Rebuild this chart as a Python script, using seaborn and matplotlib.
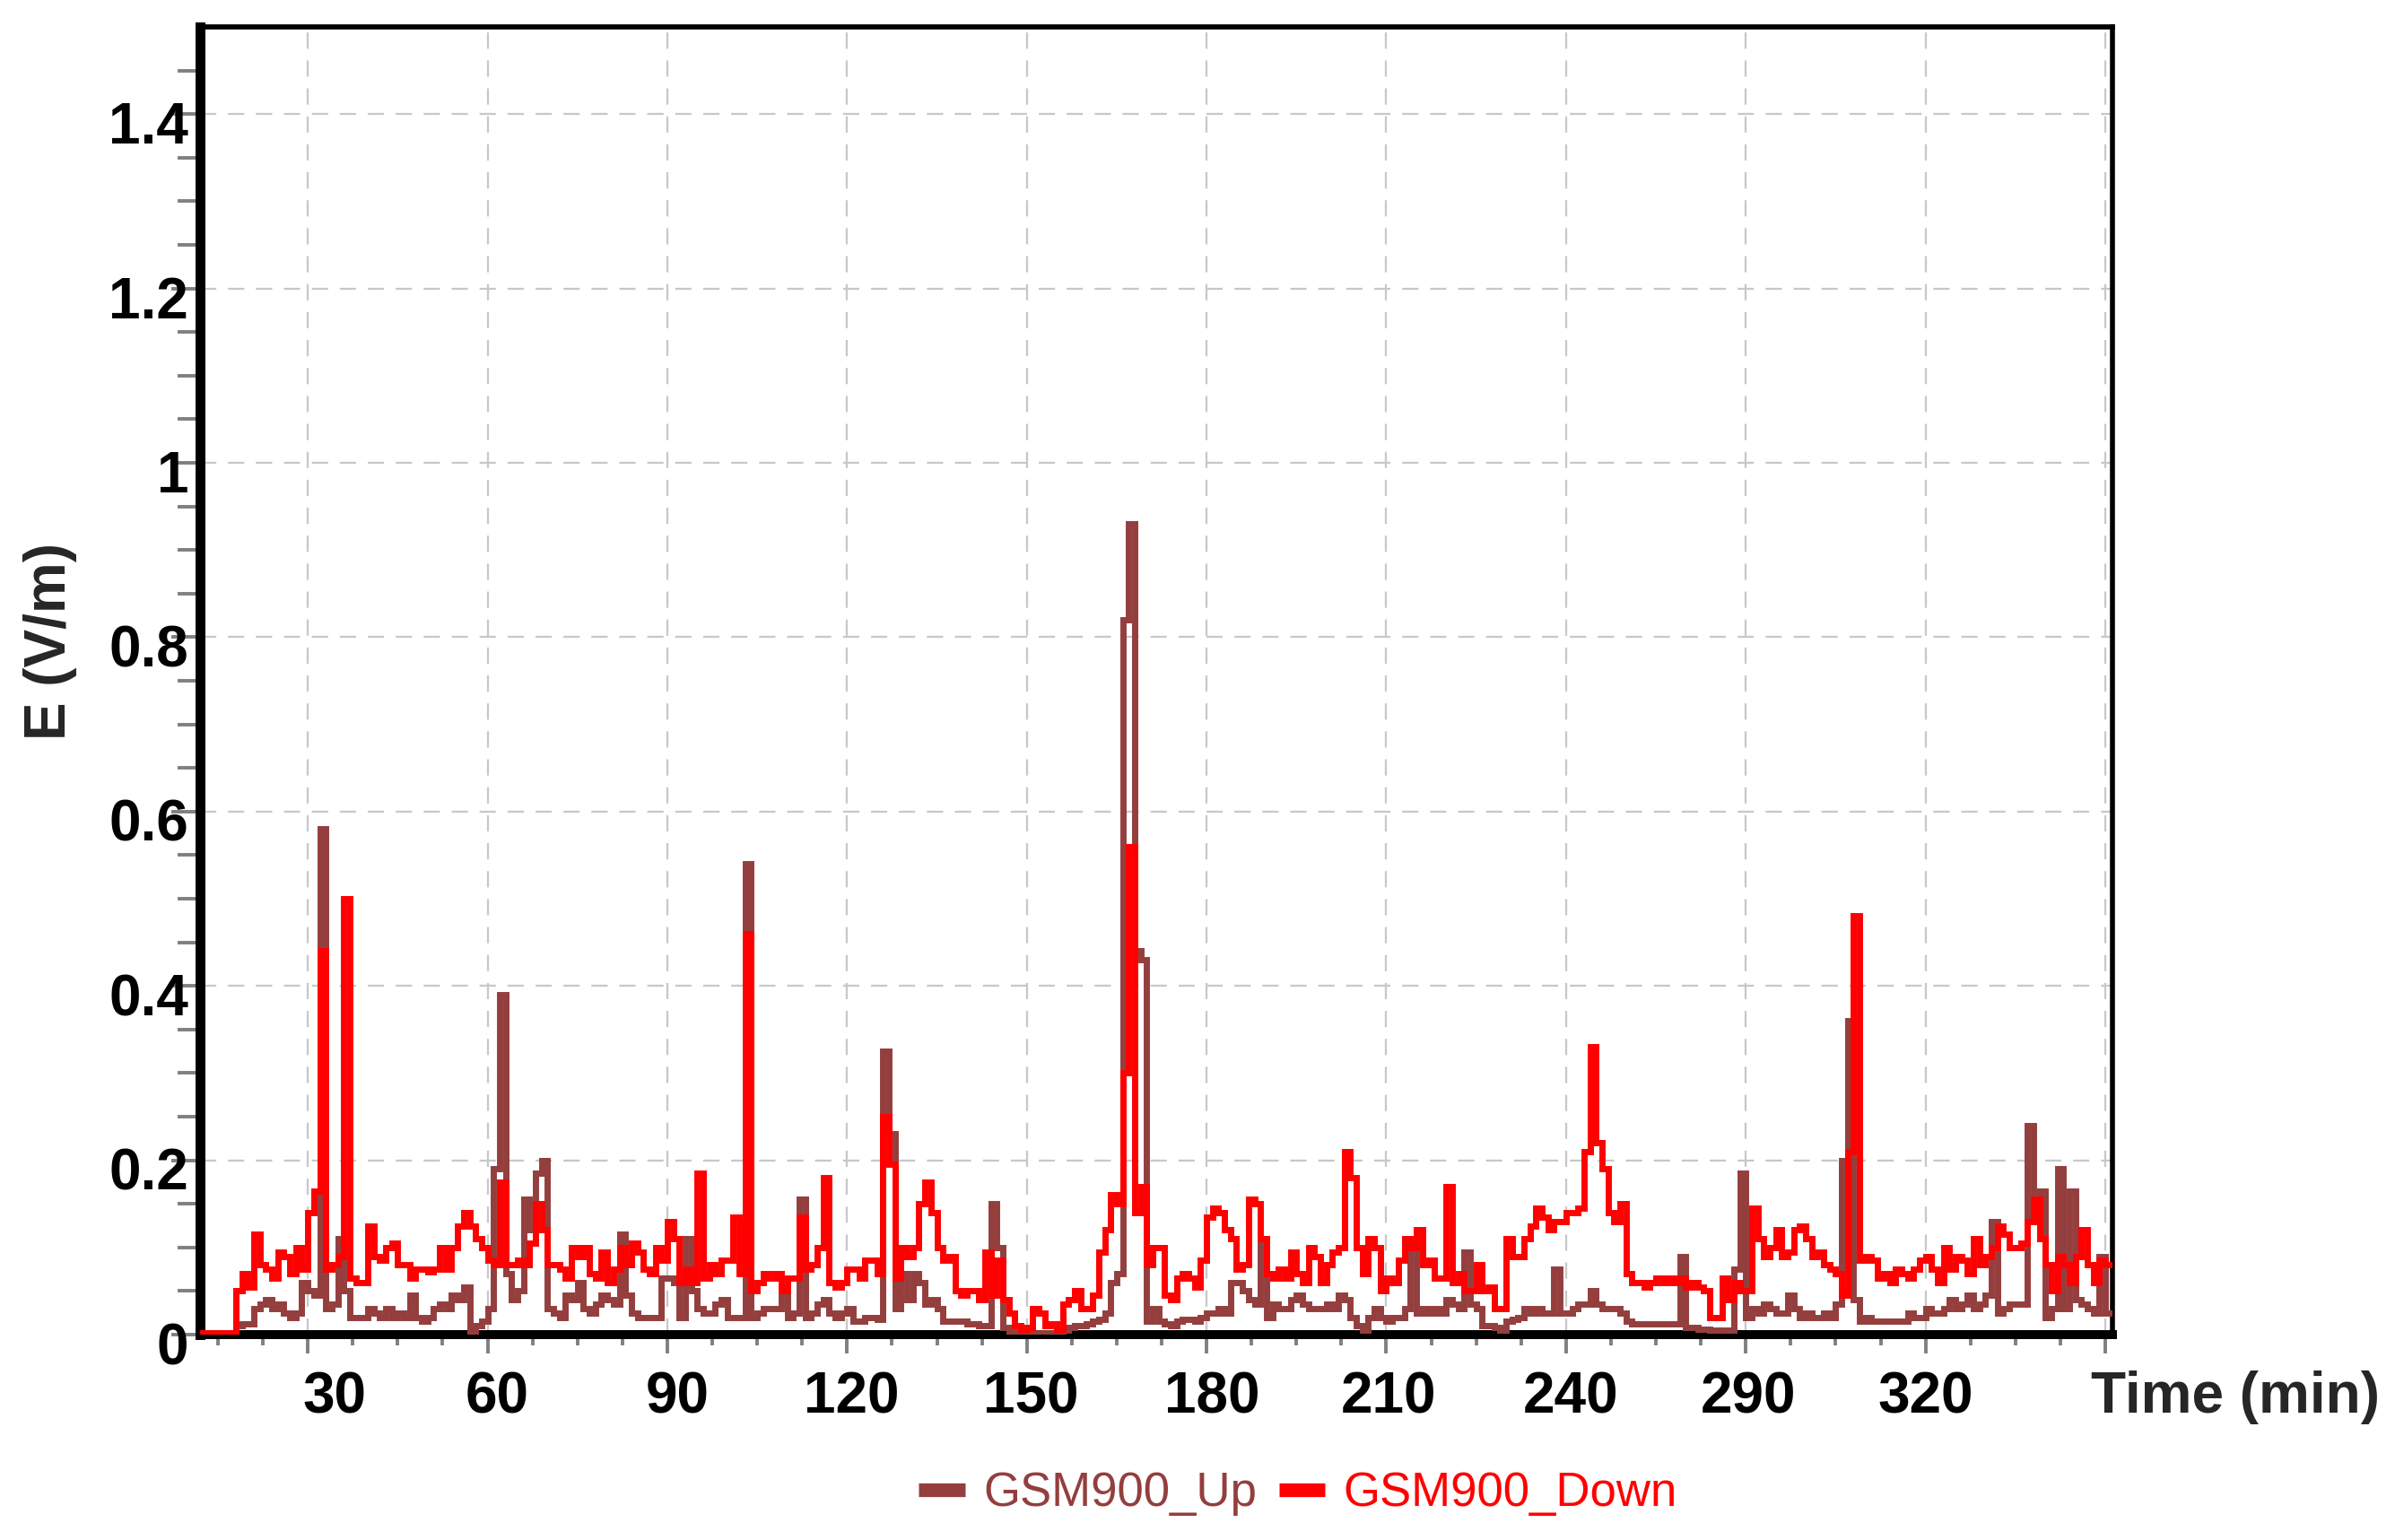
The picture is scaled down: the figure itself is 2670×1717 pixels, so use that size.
import numpy as np
import pandas as pd
import matplotlib
matplotlib.use("Agg")
import matplotlib.pyplot as plt
import matplotlib.transforms as mtransforms
from matplotlib.ticker import FixedLocator, MultipleLocator
from matplotlib.lines import Line2D
import seaborn as sns

# ---------------- data (one sample per minute, starting at minute 12) ----------------
time_start = 12

gsm900_up = [
    0.0, 0.0, 0.0, 0.0, 0.0, 0.0, 0.01, 0.012, 0.012, 0.03,
    0.035, 0.04, 0.03, 0.035, 0.025, 0.02, 0.025, 0.06, 0.05, 0.045,
    0.58, 0.03, 0.035, 0.11, 0.05, 0.02, 0.02, 0.02, 0.03, 0.025,
    0.02, 0.03, 0.02, 0.025, 0.02, 0.045, 0.02, 0.015, 0.02, 0.03,
    0.035, 0.03, 0.045, 0.04, 0.055, 0.003, 0.01, 0.015, 0.03, 0.19,
    0.39, 0.07, 0.04, 0.05, 0.155, 0.12, 0.185, 0.20, 0.03, 0.025,
    0.02, 0.045, 0.04, 0.06, 0.03, 0.025, 0.035, 0.045, 0.04, 0.035,
    0.115, 0.045, 0.025, 0.02, 0.02, 0.02, 0.02, 0.065, 0.065, 0.06,
    0.02, 0.11, 0.05, 0.03, 0.025, 0.025, 0.035, 0.04, 0.02, 0.02,
    0.02, 0.54, 0.02, 0.025, 0.03, 0.03, 0.03, 0.045, 0.02, 0.025,
    0.155, 0.02, 0.025, 0.035, 0.04, 0.025, 0.02, 0.025, 0.03, 0.015,
    0.015, 0.02, 0.02, 0.018, 0.325, 0.23, 0.03, 0.07, 0.04, 0.07,
    0.06, 0.035, 0.04, 0.03, 0.015, 0.015, 0.015, 0.015, 0.012, 0.012,
    0.01, 0.01, 0.15, 0.10, 0.008, 0.003, 0.002, 0.002, 0.002, 0.002,
    0.002, 0.002, 0.002, 0.002, 0.005, 0.008, 0.01, 0.01, 0.012, 0.015,
    0.018, 0.025, 0.06, 0.07, 0.82, 0.93, 0.44, 0.43, 0.015, 0.03,
    0.015, 0.012, 0.01, 0.015, 0.018, 0.018, 0.015, 0.02, 0.025, 0.025,
    0.03, 0.025, 0.06, 0.06, 0.05, 0.04, 0.035, 0.11, 0.02, 0.035,
    0.03, 0.03, 0.04, 0.045, 0.035, 0.03, 0.03, 0.03, 0.035, 0.03,
    0.045, 0.04, 0.02, 0.01, 0.005, 0.02, 0.03, 0.02, 0.015, 0.02,
    0.02, 0.03, 0.105, 0.025, 0.03, 0.025, 0.03, 0.025, 0.04, 0.035,
    0.03, 0.095, 0.035, 0.03, 0.01, 0.01, 0.008, 0.005, 0.015, 0.017,
    0.02, 0.03, 0.025, 0.03, 0.025, 0.025, 0.075, 0.025, 0.025, 0.03,
    0.035, 0.035, 0.05, 0.035, 0.03, 0.03, 0.03, 0.025, 0.015, 0.012,
    0.012, 0.012, 0.012, 0.012, 0.012, 0.012, 0.012, 0.09, 0.008, 0.008,
    0.006, 0.006, 0.005, 0.005, 0.005, 0.005, 0.075, 0.185, 0.02, 0.03,
    0.025, 0.035, 0.03, 0.025, 0.025, 0.045, 0.03, 0.02, 0.025, 0.02,
    0.02, 0.025, 0.02, 0.035, 0.20, 0.36, 0.04, 0.015, 0.02, 0.015,
    0.015, 0.015, 0.015, 0.015, 0.015, 0.025, 0.02, 0.02, 0.03, 0.025,
    0.025, 0.03, 0.04, 0.03, 0.035, 0.045, 0.03, 0.035, 0.045, 0.13,
    0.025, 0.03, 0.035, 0.035, 0.035, 0.24, 0.13, 0.165, 0.02, 0.03,
    0.19, 0.03, 0.165, 0.04, 0.035, 0.03, 0.025, 0.09, 0.025, 0.025,
]

gsm900_down = [
    0.002, 0.002, 0.002, 0.002, 0.002, 0.002, 0.05, 0.07, 0.055, 0.115,
    0.08, 0.075, 0.065, 0.095, 0.09, 0.07, 0.10, 0.075, 0.14, 0.165,
    0.44, 0.075, 0.08, 0.09, 0.50, 0.065, 0.06, 0.06, 0.125, 0.09,
    0.085, 0.10, 0.105, 0.08, 0.08, 0.065, 0.075, 0.075, 0.072, 0.075,
    0.10, 0.075, 0.10, 0.125, 0.14, 0.125, 0.11, 0.10, 0.085, 0.08,
    0.175, 0.08, 0.08, 0.085, 0.08, 0.105, 0.15, 0.12, 0.08, 0.08,
    0.075, 0.065, 0.10, 0.09, 0.10, 0.07, 0.065, 0.095, 0.06, 0.075,
    0.10, 0.08, 0.105, 0.095, 0.075, 0.07, 0.10, 0.085, 0.13, 0.11,
    0.06, 0.075, 0.06, 0.185, 0.065, 0.08, 0.07, 0.085, 0.085, 0.135,
    0.07, 0.46, 0.05, 0.06, 0.07, 0.065, 0.07, 0.05, 0.065, 0.065,
    0.135, 0.075, 0.08, 0.10, 0.18, 0.06, 0.055, 0.06, 0.075, 0.075,
    0.065, 0.085, 0.085, 0.07, 0.25, 0.195, 0.065, 0.10, 0.09, 0.10,
    0.15, 0.175, 0.14, 0.10, 0.085, 0.09, 0.05, 0.045, 0.05, 0.05,
    0.04, 0.095, 0.045, 0.085, 0.04, 0.025, 0.01, 0.005, 0.008, 0.03,
    0.025, 0.01, 0.012, 0.005, 0.035, 0.04, 0.05, 0.03, 0.03, 0.045,
    0.095, 0.12, 0.16, 0.15, 0.30, 0.56, 0.14, 0.17, 0.08, 0.10,
    0.10, 0.045, 0.04, 0.065, 0.07, 0.065, 0.055, 0.085, 0.135, 0.145,
    0.14, 0.12, 0.11, 0.075, 0.08, 0.155, 0.15, 0.11, 0.07, 0.065,
    0.075, 0.065, 0.095, 0.07, 0.06, 0.10, 0.09, 0.06, 0.08, 0.095,
    0.10, 0.21, 0.18, 0.10, 0.07, 0.11, 0.10, 0.05, 0.065, 0.06,
    0.085, 0.11, 0.10, 0.12, 0.08, 0.085, 0.065, 0.065, 0.17, 0.06,
    0.07, 0.05, 0.05, 0.08, 0.05, 0.055, 0.03, 0.03, 0.11, 0.09,
    0.09, 0.11, 0.125, 0.145, 0.135, 0.12, 0.13, 0.13, 0.14, 0.14,
    0.145, 0.21, 0.33, 0.22, 0.19, 0.14, 0.13, 0.15, 0.07, 0.06,
    0.06, 0.055, 0.06, 0.065, 0.06, 0.065, 0.06, 0.065, 0.055, 0.06,
    0.055, 0.05, 0.02, 0.02, 0.065, 0.04, 0.06, 0.05, 0.05, 0.145,
    0.11, 0.09, 0.10, 0.12, 0.09, 0.095, 0.12, 0.125, 0.11, 0.09,
    0.095, 0.08, 0.075, 0.07, 0.045, 0.21, 0.48, 0.085, 0.09, 0.085,
    0.065, 0.07, 0.06, 0.075, 0.07, 0.065, 0.075, 0.085, 0.09, 0.075,
    0.06, 0.10, 0.075, 0.09, 0.085, 0.07, 0.11, 0.08, 0.09, 0.10,
    0.125, 0.115, 0.10, 0.10, 0.105, 0.13, 0.155, 0.11, 0.08, 0.05,
    0.09, 0.08, 0.06, 0.09, 0.12, 0.08, 0.06, 0.085, 0.08, 0.08,
]

series_names = ["GSM900_Up", "GSM900_Down"]
series_colors = ["#943E3E", "#FF0000"]

x_tick_positions = [30, 60, 90, 120, 150, 180, 210, 240, 270, 300, 330]
x_tick_labels = ["30", "60", "90", "120", "150", "180", "210", "240", "290", "320", ""]
y_tick_positions = [0, 0.2, 0.4, 0.6, 0.8, 1.0, 1.2, 1.4]
y_tick_labels = ["0", "0.2", "0.4", "0.6", "0.8", "1", "1.2", "1.4"]

x_label = "Time (min)"
y_label = "E (V/m)"

# ---------------- layout / style ----------------
x_label_offsets_px = [30, 11, 11, 5, 5, 6, 3, 5, 3, 0, 0]
data_linewidth = 5.0

assert len(gsm900_up) == len(gsm900_down)
time_min = np.arange(len(gsm900_up)) + time_start

df = pd.DataFrame({
    "Time": np.concatenate([time_min, time_min]),
    "E": np.concatenate([gsm900_up, gsm900_down]),
    "Series": [series_names[0]] * len(gsm900_up) + [series_names[1]] * len(gsm900_down),
})

sns.set_theme(style="white")
plt.rcParams["font.family"] = ["Liberation Sans", "DejaVu Sans"]

fig = plt.figure(figsize=(26.7, 17.17), dpi=100)
ax = fig.add_axes([0.0834, 0.13337, 0.7985, 0.98253 - 0.13337])

palette = dict(zip(series_names, series_colors))
sns.lineplot(data=df, x="Time", y="E", hue="Series", hue_order=series_names,
             palette=palette, estimator=None, drawstyle="steps-post",
             lw=data_linewidth, legend=False, ax=ax)
for ln in ax.get_lines():
    ln.set_zorder(3)
    ln.set_linewidth(data_linewidth)
    ln.set_solid_joinstyle("miter")

ax.set_xlim(11.96, 331.15)
ax.set_ylim(0, 1.5)

# grid
ax.set_axisbelow(True)
ax.grid(True, which="major", color="#C8C8C8", linestyle=(0, (7.9, 5.7)), linewidth=1.65)

# spines
for side, lw in [("left", 7.9), ("bottom", 7.2), ("top", 4.1), ("right", 4.0)]:
    ax.spines[side].set_visible(True)
    ax.spines[side].set_color("black")
    ax.spines[side].set_linewidth(lw)
    ax.spines[side].set_zorder(2.6)

# ticks
ax.xaxis.set_major_locator(FixedLocator(x_tick_positions))
ax.set_xticklabels(x_tick_labels)
ax.xaxis.set_minor_locator(MultipleLocator(7.5))
ax.yaxis.set_major_locator(FixedLocator(y_tick_positions))
ax.set_yticklabels(y_tick_labels)
ax.yaxis.set_minor_locator(FixedLocator(list(np.arange(1, 30) * 0.05)))

tick_color = "#808080"
ax.tick_params(axis="x", which="major", direction="out", length=15, width=2.8,
               color=tick_color, pad=13.8, labelsize=46, labelcolor="black", bottom=True)
ax.tick_params(axis="x", which="minor", direction="out", length=8.6, width=2.8,
               color=tick_color, bottom=True)
ax.tick_params(axis="y", which="major", direction="out", length=22.7, width=2.8,
               color=tick_color, pad=-13.7, labelsize=46, labelcolor="black", left=True)
ax.tick_params(axis="y", which="minor", direction="out", length=17.9, width=2.8,
               color=tick_color, left=True)

for lab, dx in zip(ax.get_xticklabels(), x_label_offsets_px):
    lab.set_fontweight("bold")
    lab.set_transform(lab.get_transform() +
                      mtransforms.ScaledTranslation(dx / 100, 0, fig.dpi_scale_trans))
for lab in ax.get_yticklabels():
    lab.set_fontweight("bold")
    lab.set_transform(lab.get_transform() +
                      mtransforms.ScaledTranslation(0, -9.6 / 100, fig.dpi_scale_trans))

ax.set_xlabel("")
ax.set_ylabel("")

# axis titles
fig.text(2331 / 2670, (1717 - 1575) / 1717, x_label, fontsize=46, fontweight="bold",
         ha="left", va="baseline")
fig.text(56 / 2670, 1 - 715 / 1717, y_label, fontsize=46, fontweight="bold",
         rotation=90, ha="center", va="center")

# legend
handles = [Line2D([], [], color=c, lw=11, solid_capstyle="butt") for c in series_colors]
fig.legend(handles, series_names, loc="center", bbox_to_anchor=(0.542, 0.0303),
           ncol=2, frameon=False, fontsize=38, handlelength=0.97, handletextpad=0.39,
           columnspacing=0.47, labelcolor="linecolor", borderpad=0, borderaxespad=0)

fig.savefig("out.png", dpi=100)
